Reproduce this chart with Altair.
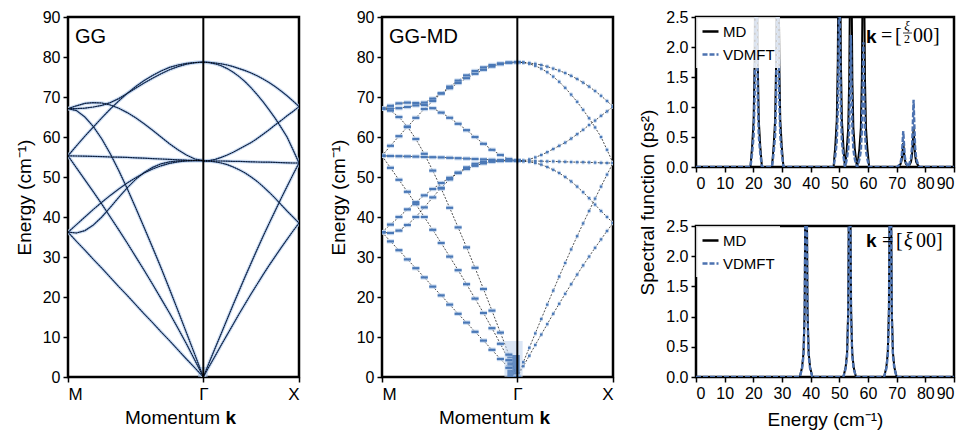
import altair as alt
import pandas as pd

FONT = "Liberation Sans"
SERIF = "Liberation Serif"
BLUE = "#4c72b0"
SQ2 = 2 ** 0.5
N_GRID = 16

# ---- band energies (cm^-1) on M -> Gamma, sampled at t = j/16 (t=0 at M, t=1 at Gamma)
mg_ta1 = [36.2, 33.9, 31.7, 29.4, 27.2, 24.9, 22.6, 20.4, 18.1, 15.8, 13.6, 11.3, 9.1, 6.8, 4.5, 2.3, 0.0]
mg_p = [55.3, 52.3, 49.3, 46.3, 43.2, 40.0, 36.8, 33.5, 30.1, 26.7, 23.2, 19.6, 16.0, 12.2, 8.3, 4.2, 0.0]
mg_q = [67.1, 66.6, 65.0, 62.6, 59.5, 55.8, 51.6, 47.1, 42.3, 37.4, 32.4, 27.3, 22.0, 16.6, 11.1, 5.6, 0.0]
mg_r1 = [36.2, 38.1, 40.0, 41.9, 43.7, 45.4, 47.0, 48.5, 49.8, 51.0, 52.0, 52.8, 53.4, 53.8, 54.0, 54.1, 54.1]
mg_r2 = [36.2, 36.0, 36.6, 38.0, 40.0, 42.4, 44.9, 47.3, 49.4, 51.1, 52.4, 53.3, 53.8, 54.0, 54.1, 54.1, 54.1]
mg_f = [55.3, 55.25, 55.2, 55.15, 55.1, 55.0, 54.95, 54.9, 54.8, 54.7, 54.6, 54.5, 54.4, 54.3, 54.2, 54.15, 54.1]
mg_d = [55.3, 57.8, 60.2, 62.5, 64.8, 67.0, 69.0, 70.9, 72.6, 74.1, 75.4, 76.5, 77.4, 78.0, 78.4, 78.6, 78.7]
mg_b = [67.1, 67.1, 67.2, 67.5, 67.9, 68.6, 69.6, 70.9, 72.2, 73.5, 74.7, 75.8, 76.8, 77.6, 78.2, 78.6, 78.7]
mg_a = [67.1, 67.8, 68.4, 68.6, 68.5, 68.0, 67.2, 66.1, 64.8, 63.3, 61.7, 60.0, 58.3, 56.8, 55.5, 54.5, 54.1]

# ---- band energies on Gamma -> X, sampled at s = j/16 (s=0 at Gamma, s=1 at X)
gx_ta_up = [0.0, 2.7, 5.3, 8.0, 10.6, 13.2, 15.8, 18.3, 20.8, 23.2, 25.6, 27.9, 30.1, 32.3, 34.4, 36.5, 38.5]
gx_la_up = [0.0, 3.7, 7.3, 10.9, 14.5, 18.1, 21.6, 25.1, 28.5, 31.9, 35.2, 38.4, 41.5, 44.6, 47.6, 50.6, 53.5]
gx_ta_down = [54.0, 53.95, 53.8, 53.5, 53.1, 52.5, 51.8, 51.0, 50.0, 48.9, 47.6, 46.2, 44.7, 43.1, 41.5, 40.0, 38.5]
gx_la_down = [78.7, 78.6, 78.3, 77.8, 77.1, 76.2, 75.1, 73.8, 72.3, 70.6, 68.8, 66.8, 64.7, 62.4, 60.0, 56.8, 53.5]
gx_upper = [78.7, 78.65, 78.5, 78.3, 78.0, 77.6, 77.1, 76.6, 76.0, 75.3, 74.5, 73.6, 72.6, 71.5, 70.3, 69.0, 67.6]
gx_rise = [54.0, 54.1, 54.4, 54.9, 55.5, 56.2, 57.0, 57.8, 58.6, 59.6, 60.7, 61.8, 63.0, 64.1, 65.3, 66.4, 67.6]
gx_flat = [54.0, 54.0, 54.0, 54.0, 53.95, 53.9, 53.9, 53.85, 53.8, 53.75, 53.7, 53.7, 53.65, 53.6, 53.55, 53.5, 53.5]

tick_pos = [0.0, SQ2, SQ2 + 1.0]
tick_labels = ["M", "Γ", "X"]

# MD broadening blob near Gamma (k range, energy range): outer halo, inner core
blob_k0 = [1.28, 1.31]
blob_k1 = [1.47, 1.44]
blob_e0 = [0.0, 0.0]
blob_e1 = [9.0, 5.5]
# faint glow at Gamma in the GG panel
glow_k0 = [1.36]
glow_k1 = [1.46]
glow_e0 = [0.0]
glow_e1 = [2.5]

# ---- spectral functions
top_e = [0,
         19.0, 19.6, 20.1, 20.45, 20.7, 21.0, 21.3, 21.55, 21.9, 22.4, 23.0,
         26.5, 27.1, 27.6, 27.95, 28.2, 28.5, 28.8, 29.05, 29.4, 29.9, 30.5,
         48.0, 48.6, 49.1, 49.45, 49.7, 50.0, 50.3, 50.55, 50.9, 51.4, 51.95,
         52.05, 52.6, 53.1, 53.45, 53.7, 54.0, 54.3, 54.55, 54.9, 55.4, 56.15,
         56.25, 57.0, 57.5, 57.85, 58.1, 58.4, 58.7, 58.95, 59.3, 59.8, 60.4,
         70.3, 70.9, 71.4, 71.75, 72.0, 72.3, 72.6, 72.85, 73.2, 73.7, 74.05,
         74.1, 74.5, 75.0, 75.35, 75.6, 75.9, 76.2, 76.45, 76.8, 77.3, 77.9,
         90]
top_md = [0,
          0, 0.36, 0.78, 1.74, 3.48, 6.0, 3.48, 1.74, 0.78, 0.36, 0,
          0, 0.36, 0.78, 1.74, 3.48, 6.0, 3.48, 1.74, 0.78, 0.36, 0,
          0, 0.36, 0.78, 1.74, 3.48, 6.0, 3.48, 1.74, 0.78, 0.36, 0,
          0, 0.3, 0.65, 1.45, 2.9, 5.0, 2.9, 1.45, 0.65, 0.3, 0,
          0, 0.3, 0.65, 1.45, 2.9, 5.0, 2.9, 1.45, 0.65, 0.3, 0,
          0, 0.024, 0.052, 0.116, 0.232, 0.4, 0.232, 0.116, 0.052, 0.024, 0,
          0, 0.039, 0.085, 0.189, 0.377, 0.65, 0.377, 0.189, 0.085, 0.039, 0,
          0]
top_vdmft = [0,
             0, 0.24, 0.52, 1.16, 2.32, 4.0, 2.32, 1.16, 0.52, 0.24, 0,
             0, 0.24, 0.52, 1.16, 2.32, 4.0, 2.32, 1.16, 0.52, 0.24, 0,
             0, 0.19, 0.42, 0.93, 1.86, 3.2, 1.86, 0.93, 0.42, 0.19, 0,
             0, 0.13, 0.29, 0.64, 1.28, 2.2, 1.28, 0.64, 0.29, 0.13, 0,
             0, 0.125, 0.27, 0.6, 1.21, 2.08, 1.21, 0.6, 0.27, 0.125, 0,
             0, 0.036, 0.078, 0.174, 0.348, 0.6, 0.348, 0.174, 0.078, 0.036, 0,
             0, 0.067, 0.146, 0.325, 0.65, 1.12, 0.65, 0.325, 0.146, 0.067, 0,
             0]
bot_e = [0,
         36.2, 37.0, 37.5, 37.9, 38.15, 38.4, 38.65, 38.9, 39.3, 39.8, 40.6,
         51.4, 52.2, 52.7, 53.1, 53.35, 53.6, 53.85, 54.1, 54.5, 55.0, 55.8,
         65.6, 66.4, 66.9, 67.3, 67.55, 67.8, 68.05, 68.3, 68.7, 69.2, 70.0,
         90]
bot_md = [0,
          0, 0.16, 0.4, 1.12, 3.12, 8.0, 3.12, 1.12, 0.4, 0.16, 0,
          0, 0.16, 0.4, 1.12, 3.12, 8.0, 3.12, 1.12, 0.4, 0.16, 0,
          0, 0.16, 0.4, 1.12, 3.12, 8.0, 3.12, 1.12, 0.4, 0.16, 0,
          0]
bot_vdmft = [0,
             0, 0.14, 0.35, 0.98, 2.73, 7.0, 2.73, 0.98, 0.35, 0.14, 0,
             0, 0.14, 0.35, 0.98, 2.73, 7.0, 2.73, 0.98, 0.35, 0.14, 0,
             0, 0.14, 0.35, 0.98, 2.73, 7.0, 2.73, 0.98, 0.35, 0.14, 0,
             0]

series_names = ["MD", "VDMFT"]
series_colors = ["#000000", BLUE]
series_dashes = [[1, 0], [5, 2]]

# ---------------- build tables ----------------
mg_names = ["ta1", "p", "q", "r1", "r2", "f", "d", "b", "a"]
mg_lists = [mg_ta1, mg_p, mg_q, mg_r1, mg_r2, mg_f, mg_d, mg_b, mg_a]
gx_names = ["ta_up", "la_up", "ta_down", "la_down", "upper", "rise", "flat"]
gx_lists = [gx_ta_up, gx_la_up, gx_ta_down, gx_la_down, gx_upper, gx_rise, gx_flat]

rows = []
for name, vals in zip(mg_names, mg_lists):
    step = SQ2 / N_GRID
    for j, e in enumerate(vals):
        rows.append({"band": "MG_" + name, "k": step * j, "E": e,
                     "k0": step * j - 0.42 * step, "k1": step * j + 0.42 * step})
for name, vals in zip(gx_names, gx_lists):
    step = 1.0 / N_GRID
    for j, e in enumerate(vals):
        rows.append({"band": "GX_" + name, "k": SQ2 + step * j, "E": e,
                     "k0": SQ2 + step * j - 0.22 * step, "k1": SQ2 + step * j + 0.22 * step})
bands = pd.DataFrame(rows)
blob_outer = pd.DataFrame({"k0": blob_k0[:1], "k1": blob_k1[:1], "E": blob_e0[:1], "E2": blob_e1[:1]})
blob_inner = pd.DataFrame({"k0": blob_k0[1:], "k1": blob_k1[1:], "E": blob_e0[1:], "E2": blob_e1[1:]})
glow = pd.DataFrame({"k0": glow_k0, "k1": glow_k1, "E": glow_e0, "E2": glow_e1})

label_expr = (f"datum.value < {(tick_pos[0] + tick_pos[1]) / 2:.3f} ? '{tick_labels[0]}' : "
              f"(datum.value < {(tick_pos[1] + tick_pos[2]) / 2:.3f} ? '{tick_labels[1]}' : '{tick_labels[2]}')")

XS = alt.Scale(domain=[0, SQ2 + 1], nice=False, zero=False)
YS = alt.Scale(domain=[0, 90], nice=False, zero=True)
XAX = alt.Axis(values=tick_pos, labelExpr=label_expr, title=None, labelFontSize=17, labelPadding=4)
YAX = alt.Axis(values=list(range(0, 91, 10)), title="Energy (cm⁻¹)", titlePadding=8)


def xk(field="k"):
    return alt.X(f"{field}:Q", scale=XS, axis=XAX)


def ye(field="E"):
    return alt.Y(f"{field}:Q", scale=YS, axis=YAX)


def text_layer(txt, x, y, size, font=FONT, weight="normal", style="normal", align="left"):
    return alt.Chart(pd.DataFrame({"t": [txt]})).mark_text(
        align=align, baseline="alphabetic", font=font, fontSize=size, fontWeight=weight,
        fontStyle=style, color="black").encode(text="t:N", x=alt.value(x), y=alt.value(y))


def disp_panel(label, md):
    layers = []
    if md:
        layers.append(alt.Chart(bands).mark_line(color="black", strokeWidth=0.7, strokeDash=[2, 1.5], clip=True)
                      .encode(x=xk(), y=ye(), detail="band:N", order="k:Q"))
        layers.append(alt.Chart(blob_outer).mark_rect(color="#c3d6ee", opacity=0.6, clip=True)
                      .encode(x=xk("k0"), x2="k1", y=ye(), y2="E2"))
        layers.append(alt.Chart(blob_inner).mark_rect(color="#4f7bb8", opacity=0.85, clip=True)
                      .encode(x=xk("k0"), x2="k1", y=ye(), y2="E2"))
        layers.append(alt.Chart(bands).mark_rule(color="#bcd2ec", strokeWidth=4.5, opacity=0.7, clip=True)
                      .encode(x=xk("k0"), x2="k1", y=ye()))
        layers.append(alt.Chart(bands).mark_rule(color="#4a78b6", strokeWidth=2.2, clip=True)
                      .encode(x=xk("k0"), x2="k1", y=ye()))
    else:
        layers.append(alt.Chart(glow).mark_rect(color="#9dbbe2", opacity=0.6, clip=True)
                      .encode(x=xk("k0"), x2="k1", y=ye(), y2="E2"))
        layers.append(alt.Chart(bands).mark_line(color="#bdd2ec", strokeWidth=3.5, opacity=0.7, clip=True)
                      .encode(x=xk(), y=ye(), detail="band:N", order="k:Q"))
        layers.append(alt.Chart(bands).mark_line(color="#2d4f86", strokeWidth=1.2, clip=True)
                      .encode(x=xk(), y=ye(), detail="band:N", order="k:Q"))
        layers.append(alt.Chart(bands).mark_line(color="black", strokeWidth=0.7, strokeDash=[1.5, 1], clip=True)
                      .encode(x=xk(), y=ye(), detail="band:N", order="k:Q"))
    layers.append(alt.Chart(pd.DataFrame({"k": [tick_pos[1]]})).mark_rule(color="black", strokeWidth=2)
                  .encode(x=xk()))
    layers.append(text_layer(label, 7, 26, 20))
    layers.append(text_layer("Momentum", 57, 407, 19))
    layers.append(text_layer("k", 157.5, 407, 19, weight="bold"))
    return alt.layer(*layers).properties(width=231, height=360)


def spec_panel(e, md, vd, bottom):
    df = pd.DataFrame({"E": e + e, "A": md + vd,
                       "series": [series_names[0]] * len(e) + [series_names[1]] * len(e)})
    leg = alt.Legend(orient="top-left", title=None, fillColor="rgba(255,255,255,0.8)", symbolType="stroke",
                     symbolSize=256, symbolStrokeWidth=2.5, labelFontSize=15, labelFont=FONT, padding=5,
                     offset=0, rowPadding=5, labelOffset=3)
    color = alt.Color("series:N", scale=alt.Scale(domain=series_names, range=series_colors), legend=leg)
    dash = alt.StrokeDash("series:N", scale=alt.Scale(domain=series_names, range=series_dashes), legend=leg)
    xax = alt.Axis(values=list(range(0, 91, 10)), title="Energy (cm⁻¹)" if bottom else None, titlePadding=9)
    yax = alt.Axis(values=[0, 0.5, 1.0, 1.5, 2.0, 2.5], format=".1f",
                   title="Spectral function (ps²)" if bottom else None, titleY=-24, titlePadding=8)
    x = alt.X("E:Q", scale=alt.Scale(domain=[0, 90], nice=False), axis=xax)
    y = alt.Y("A:Q", scale=alt.Scale(domain=[0, 2.5], nice=False), axis=yax)
    l_md = alt.Chart(df).transform_filter(f"datum.series == '{series_names[0]}'").mark_line(
        strokeWidth=2, clip=True).encode(x=x, y=y, color=color, strokeDash=dash)
    l_vd = alt.Chart(df).transform_filter(f"datum.series == '{series_names[1]}'").mark_line(
        strokeWidth=2.4, clip=True).encode(x=x, y=y, color=color, strokeDash=dash)
    layers = [l_md, l_vd, text_layer("k", 170, 26 if not bottom else 21, 19, weight="bold")]
    if bottom:
        layers += [text_layer("=", 186, 21, 20, font=SERIF),
                   text_layer("[", 200, 21, 20, font=SERIF),
                   text_layer("ξ", 208, 21, 20, font=SERIF, style="italic"),
                   text_layer("00]", 220, 21, 20, font=SERIF)]
    else:
        layers += [text_layer("=", 185, 25, 20, font=SERIF),
                   text_layer("[", 199, 25, 20, font=SERIF),
                   text_layer("ξ", 211, 13, 13, font=SERIF, style="italic", align="center"),
                   alt.Chart(pd.DataFrame({"a": [0]})).mark_rule(color="black", strokeWidth=0.8)
                   .encode(x=alt.value(207), x2=alt.value(216), y=alt.value(16)),
                   text_layer("2", 211, 26, 12, font=SERIF, align="center"),
                   text_layer("00]", 217, 25, 20, font=SERIF)]
    h = 151 if bottom else 150
    return alt.layer(*layers).properties(width=258, height=h)


p1 = disp_panel("GG", False)
p2 = disp_panel("GG-MD", True)
s_top = spec_panel(top_e, top_md, top_vdmft, False)
s_bot = spec_panel(bot_e, bot_md, bot_vdmft, True)

col3 = alt.vconcat(s_top, s_bot, spacing=59, bounds="flush").resolve_scale(
    color="independent", strokeDash="independent").resolve_legend(color="independent", strokeDash="independent")

chart = alt.hconcat(p1, p2, col3, spacing=83, bounds="flush").properties(
    padding={"left": 13, "top": 7, "right": 0, "bottom": 0}
).configure_view(stroke="black", strokeWidth=2.5).configure_axis(
    domain=False, grid=False, tickColor="black", tickWidth=1.5, tickSize=5, labelFont=FONT,
    labelFontSize=16, labelColor="black", titleFont=FONT, titleFontSize=19, titleFontWeight="normal",
    titleColor="black", labelPadding=3
).configure_legend(labelColor="black")

chart.save("out.html", embed_options={"renderer": "svg", "actions": False})
